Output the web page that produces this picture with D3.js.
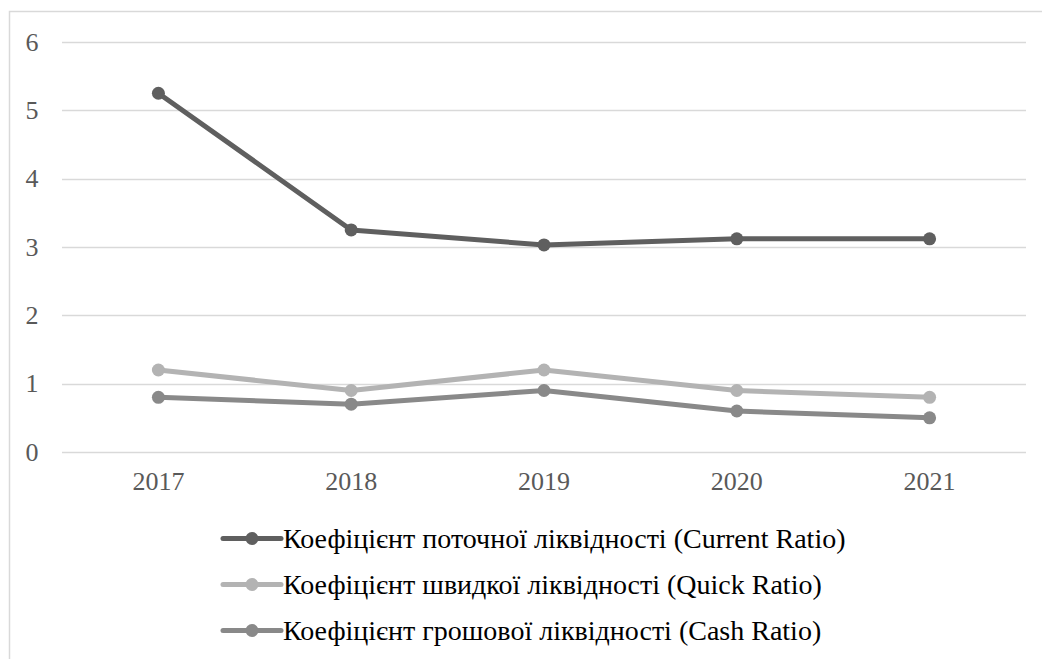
<!DOCTYPE html>
<html>
<head>
<meta charset="utf-8">
<script src="https://cdn.jsdelivr.net/npm/d3@7"></script>
<style>
  html, body { margin: 0; padding: 0; background: #fff; }
  svg { display: block; }
  svg text { font-family: "Liberation Serif", "Times New Roman", serif; }
</style>
</head>
<body>
<svg id="chart" width="1042" height="659"></svg>
<script>
// Liquidity ratios, 2017–2021
const years = ["2017", "2018", "2019", "2020", "2021"];
const currentRatio = [5.25, 3.25, 3.03, 3.12, 3.12];
const quickRatio = [1.2, 0.9, 1.2, 0.9, 0.8];
const cashRatio = [0.8, 0.7, 0.9, 0.6, 0.5];
const yTicks = [0, 1, 2, 3, 4, 5, 6];
const seriesNames = [
  "Коефіцієнт поточної ліквідності (Current Ratio)",
  "Коефіцієнт швидкої ліквідності (Quick Ratio)",
  "Коефіцієнт грошової ліквідності (Cash Ratio)"
];
const seriesColors = ["#5f5f5f", "#b3b3b3", "#898989"];

const series = [currentRatio, quickRatio, cashRatio].map((values, i) => ({
  name: seriesNames[i],
  color: seriesColors[i],
  values: values.map((v, j) => ({ year: years[j], value: v }))
}));

const svg = d3.select("#chart");
const font = "'Liberation Serif', 'Times New Roman', serif";

// outer frame (runs off the right and bottom edges)
svg.append("rect")
  .attr("x", 9.5).attr("y", 11.5)
  .attr("width", 1100).attr("height", 700)
  .attr("fill", "none").attr("stroke", "#d9d9d9").attr("stroke-width", 1.5);

const plot = { left: 62, right: 1026, top: 42, bottom: 452 };

const x = d3.scaleBand().domain(years).range([plot.left, plot.right]);
const y = d3.scaleLinear().domain([0, 6]).range([plot.bottom, plot.top]);

// horizontal gridlines
svg.append("g")
  .selectAll("line")
  .data(yTicks)
  .join("line")
  .attr("x1", plot.left).attr("x2", plot.right)
  .attr("y1", d => Math.round(y(d)) + 0.5).attr("y2", d => Math.round(y(d)) + 0.5)
  .attr("stroke", "#d9d9d9").attr("stroke-width", 1.5);

// y axis labels
const yAxis = svg.append("g")
  .attr("transform", "translate(32,0)")
  .call(d3.axisLeft(y).tickValues(yTicks).tickSize(0).tickPadding(0).tickFormat(d3.format("d")));
yAxis.select(".domain").remove();
yAxis.attr("font-family", null);
yAxis.selectAll("text")
  .style("font-family", font).attr("font-size", 26).attr("fill", "#595959")
  .attr("text-anchor", "middle").attr("dy", "0.32em");

// x axis labels
const xAxis = svg.append("g")
  .attr("transform", "translate(0,490)")
  .call(d3.axisBottom(x).tickSize(0).tickPadding(0));
xAxis.select(".domain").remove();
xAxis.attr("font-family", null);
xAxis.selectAll("text")
  .style("font-family", font).attr("font-size", 26).attr("fill", "#595959")
  .attr("y", 0).attr("dy", 0);

const cx = d => x(d.year) + x.bandwidth() / 2;
const line = d3.line().x(cx).y(d => y(d.value));

const seriesG = svg.append("g")
  .selectAll("g")
  .data(series.slice().reverse())
  .join("g");

seriesG.append("path")
  .attr("d", d => line(d.values))
  .attr("fill", "none")
  .attr("stroke", d => d.color)
  .attr("stroke-width", 5)
  .attr("stroke-linejoin", "round");

seriesG.selectAll("circle")
  .data(d => d.values.map(v => ({ ...v, color: d.color })))
  .join("circle")
  .attr("cx", cx)
  .attr("cy", d => y(d.value))
  .attr("r", 6.5)
  .attr("fill", d => d.color);

// legend
const legend = svg.append("g")
  .selectAll("g")
  .data(series)
  .join("g")
  .attr("transform", (d, i) => `translate(223,${538.5 + i * 46})`);

legend.append("line")
  .attr("x1", 0).attr("x2", 58)
  .attr("stroke", d => d.color).attr("stroke-width", 5)
  .attr("stroke-linecap", "round");
legend.append("circle")
  .attr("cx", 29).attr("r", 6.5)
  .attr("fill", d => d.color);
legend.append("text")
  .attr("x", 60).attr("y", 9.5)
  .style("font-family", font).attr("font-size", 28).attr("fill", "#000")
  .text(d => d.name);
</script>
</body>
</html>
